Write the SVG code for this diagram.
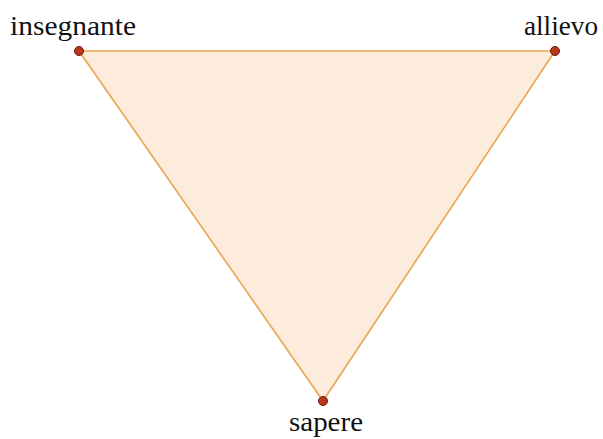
<svg xmlns="http://www.w3.org/2000/svg" width="603" height="439" viewBox="0 0 603 439">
<style>
.lbl{font-family:"Liberation Serif","Times New Roman","DejaVu Serif",serif;font-size:28px;fill:#111}
.pt{fill:#b8381e;stroke:#6a1a0a;stroke-width:1}
.edge{stroke:#e8a550;stroke-width:1.6;fill:none}
</style>
<rect width="603" height="439" fill="#ffffff"/>
<g id="connectors">
<polygon points="79,51 555,51 323,401" fill="#fdebdb" stroke="none"/>
<line class="edge" x1="79" y1="51" x2="555" y2="51"/>
<line class="edge" x1="555" y1="51" x2="323" y2="401"/>
<line class="edge" x1="323" y1="401" x2="79" y2="51"/>
</g>
<g id="insegnante">
<circle class="pt" cx="79" cy="51" r="4.5"/>
<text class="lbl" x="10" y="35" textLength="126" lengthAdjust="spacingAndGlyphs">insegnante</text>
</g>
<g id="allievo">
<circle class="pt" cx="555" cy="51" r="4.5"/>
<text class="lbl" x="524" y="35" textLength="74" lengthAdjust="spacingAndGlyphs">allievo</text>
</g>
<g id="sapere">
<circle class="pt" cx="323" cy="401" r="4.5"/>
<text class="lbl" x="289" y="431" textLength="74" lengthAdjust="spacingAndGlyphs">sapere</text>
</g>
</svg>
